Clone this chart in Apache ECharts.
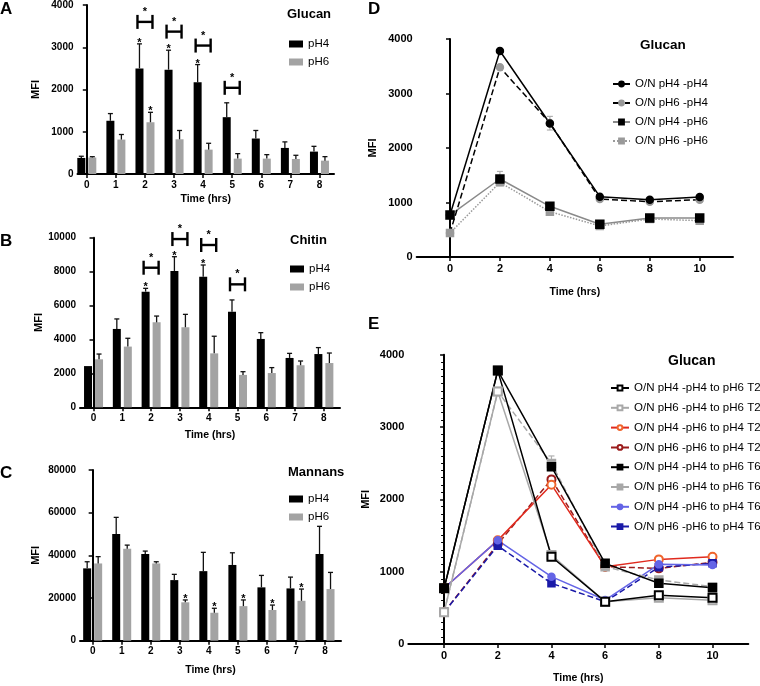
<!DOCTYPE html>
<html><head><meta charset="utf-8">
<script src="https://cdn.jsdelivr.net/npm/echarts@6/dist/echarts.min.js"></script>
<style>html,body{margin:0;padding:0;background:#fff}#c{width:760px;height:686px}</style>
</head><body><div id="c"></div>
<script>
// ---------- Data: panels A-C (bar charts) ----------
const barTimes = [0,1,2,3,4,5,6,7,8];
const glucanPH4    = [380,1260,2500,2470,2170,1345,840,617,530];
const glucanPH4Top = [420,1430,3080,2930,2590,1685,1030,760,655];
const glucanPH6    = [390,815,1225,822,577,364,364,356,316];
const glucanPH6Top = [410,935,1460,1030,727,482,458,443,411];
const chitinPH4    = [2430,4620,6820,8040,7700,5640,4030,2910,3140];
const chitinPH4Top = [2430,5210,7015,8880,8390,6330,4400,3180,3520];
const chitinPH6    = [2830,3580,5010,4720,3180,1910,2020,2480,2610];
const chitinPH6Top = [3140,4070,5380,5480,4190,2100,2340,2730,3200];
const mannanPH4    = [33900,50000,40600,28400,32600,35500,25000,24500,40600];
const mannanPH4Top = [37000,57800,42000,31100,41400,41200,30600,29800,53600];
const mannanPH6    = [36200,43100,36200,18000,13100,16200,14400,18700,24200];
const mannanPH6Top = [39400,44800,37000,19100,15200,19100,16700,24200,32000];
// significance marks
const glucanStarPH4 = [2,3,4];
const glucanStarPH6 = [2];
const chitinStarPH4 = [2,3,4];
const mannanStarPH6 = [3,4,5,6,7];
const glucanBrackets = [[2,3600],[3,3370],[4,3040],[5,2040]];
const chitinBrackets = [[2,8230],[3,9920],[4,9570],[5,7250]];

// ---------- Data: panel D ----------
const lineTimes = [0,2,4,6,8,10];
const dPH4_PH4 = [770,3780,2450,1107,1052,1101];
const dPH6_PH4 = [440,3480,2460,1064,1015,1052];
const dPH4_PH6 = [770,1431,930,600,716,716];
const dPH6_PH6 = [440,1370,832,569,697,667];
const dErrors = [[2,3740,3830],[4,2330,2580],[2,1310,1570],[6,1030,1130],[8,990,1070]];

// ---------- Data: panel E ----------
const e1 = [770,3780,1207,585,673,640];
const e2 = [440,3490,1230,585,640,604];
const e3 = [770,1433,2203,1069,1170,1207];
const e4 = [440,1382,2276,1069,1046,1129];
const e5 = [770,3780,2451,1115,839,779];
const e6 = [440,3490,2497,1069,885,793];
const e7 = [770,1433,931,608,1101,1092];
const e8 = [440,1359,839,585,1060,1115];
const eErrors = [[2,3740,3830],[4,2400,2600],[8,850,920]];

const barTicks = [0,1,2,3,4,5,6,7,8];
const lineTicks = [0,2,4,6,8,10];

const FF = "'Liberation Sans', Arial, sans-serif";
const BLACK = '#000', GRAY = '#a3a3a3';

function barItem(offset, color) {
  return function (params, api) {
    const x = api.value(0), v = api.value(1), top = api.value(2);
    const base = api.coord([x, 0]);
    const head = api.coord([x, v]);
    const err = api.coord([x, top]);
    const cx = base[0] + offset;
    const ch = [{type:'rect', shape:{x:cx-4, y:head[1], width:8, height:base[1]-head[1]}, style:{fill:color}}];
    if (top > v) {
      ch.push({type:'line', shape:{x1:cx, y1:head[1], x2:cx, y2:err[1]}, style:{stroke:'#111', lineWidth:1.3}});
      ch.push({type:'line', shape:{x1:cx-2.5, y1:err[1], x2:cx+2.5, y2:err[1]}, style:{stroke:'#111', lineWidth:1.3}});
    }
    return {type:'group', children:ch};
  };
}
function starItem(offset) {
  return function (params, api) {
    const p = api.coord([api.value(0), api.value(1)]);
    return {type:'text', x:p[0]+offset, y:p[1]-1, style:{text:'*', fill:'#000', font:'bold 11px '+FF, align:'center', verticalAlign:'middle'}};
  };
}
function bracketItem(params, api) {
  const p = api.coord([api.value(0), api.value(1)]);
  const x = p[0], y = p[1], w = 7.5, h = 7;
  const st = {stroke:'#000', lineWidth:2.4};
  return {type:'group', children:[
    {type:'line', shape:{x1:x-w, y1:y, x2:x+w, y2:y}, style:st},
    {type:'line', shape:{x1:x-w, y1:y-h, x2:x-w, y2:y+h}, style:st},
    {type:'line', shape:{x1:x+w, y1:y-h, x2:x+w, y2:y+h}, style:st},
    {type:'text', x:x, y:y-10, style:{text:'*', fill:'#000', font:'bold 11px '+FF, align:'center', verticalAlign:'middle'}}
  ]};
}
function errItem(color) {
  return function (params, api) {
    const lo = api.coord([api.value(0), api.value(1)]);
    const hi = api.coord([api.value(0), api.value(2)]);
    const st = {stroke:color, lineWidth:1.2};
    return {type:'group', children:[
      {type:'line', shape:{x1:lo[0], y1:lo[1], x2:hi[0], y2:hi[1]}, style:st},
      {type:'line', shape:{x1:lo[0]-3, y1:lo[1], x2:lo[0]+3, y2:lo[1]}, style:st},
      {type:'line', shape:{x1:hi[0]-3, y1:hi[1], x2:hi[0]+3, y2:hi[1]}, style:st}
    ]};
  };
}
const plain = v => String(v);

function xAx(gi, min, max, ticks, fs, gap) {
  return {type:'value', gridIndex:gi, min:min, max:max, splitLine:{show:false},
    axisLine:{show:true, onZero:false, lineStyle:{color:'#000', width:2}},
    axisTick:{show:true, customValues:ticks, length:4, lineStyle:{color:'#000', width:1.5}},
    axisLabel:{customValues:ticks, formatter:plain, color:'#000', fontWeight:'bold', fontSize:fs, fontFamily:FF, margin:6},
    name:'Time (hrs)', nameLocation:'middle', nameGap:gap,
    nameTextStyle:{color:'#000', fontWeight:'bold', fontSize:10.5, fontFamily:FF}};
}
function yAx(gi, max, interval, fs, gap, minor) {
  const a = {type:'value', gridIndex:gi, min:0, max:max, interval:interval, splitLine:{show:false},
    axisLine:{show:true, lineStyle:{color:'#000', width:2}},
    axisTick:{show:true, length:4, lineStyle:{color:'#000', width:1.5}},
    axisLabel:{formatter:plain, color:'#000', fontWeight:'bold', fontSize:fs, fontFamily:FF, margin:4},
    name:'MFI', nameLocation:'middle', nameGap:gap,
    nameTextStyle:{color:'#000', fontWeight:'bold', fontSize:11, fontFamily:FF}};
  if (minor) a.minorTick = {show:true, splitNumber:10, length:3, lineStyle:{color:'#000', width:1}};
  return a;
}

const series = [];
function addBars(gi, ph4, ph4Top, ph6, ph6Top) {
  series.push({name:'pH4', type:'custom', xAxisIndex:gi, yAxisIndex:gi, clip:false,
    itemStyle:{color:BLACK}, renderItem:barItem(-5.5, BLACK), encode:{x:0, y:[1,2]},
    data:barTimes.map((t,i)=>[t, ph4[i], ph4Top[i]])});
  series.push({name:'pH6', type:'custom', xAxisIndex:gi, yAxisIndex:gi, clip:false,
    itemStyle:{color:GRAY}, renderItem:barItem(5.5, GRAY), encode:{x:0, y:[1,2]},
    data:barTimes.map((t,i)=>[t, ph6[i], ph6Top[i]])});
}
function addStars(gi, cats, tops, offset) {
  series.push({name:'sig'+gi+offset, type:'custom', xAxisIndex:gi, yAxisIndex:gi, clip:false,
    renderItem:starItem(offset), encode:{x:0, y:1},
    data:cats.map(c=>[c, tops[barTimes.indexOf(c)]])});
}
function addBrackets(gi, data) {
  series.push({name:'br'+gi, type:'custom', xAxisIndex:gi, yAxisIndex:gi, clip:false,
    renderItem:bracketItem, encode:{x:0, y:1}, data:data});
}

addBars(0, glucanPH4, glucanPH4Top, glucanPH6, glucanPH6Top);
addStars(0, glucanStarPH4, glucanPH4Top, -5.5);
addStars(0, glucanStarPH6, glucanPH6Top, 5.5);
addBrackets(0, glucanBrackets);
addBars(1, chitinPH4, chitinPH4Top, chitinPH6, chitinPH6Top);
addStars(1, chitinStarPH4, chitinPH4Top, -5.5);
addBrackets(1, chitinBrackets);
addBars(2, mannanPH4, mannanPH4Top, mannanPH6, mannanPH6Top);
addStars(2, mannanStarPH6, mannanPH6Top, 5.5);

function lineS(gi, name, vals, lineColor, symColor, symbol, size, type) {
  return {name:name, type:'line', xAxisIndex:gi, yAxisIndex:gi, symbol:symbol, symbolSize:size,
    lineStyle:{color:lineColor, width:1.5, type:type||'solid'},
    itemStyle:{color:symColor, borderColor:symColor, borderWidth:1.5},
    emphasis:{disabled:true},
    data:lineTimes.map((t,i)=>[t, vals[i]])};
}
series.push({name:'errD', type:'custom', xAxisIndex:3, yAxisIndex:3, renderItem:errItem('#b0b0b0'), encode:{x:0,y:[1,2]}, data:dErrors});
series.push(lineS(3, 'O/N pH6 -pH6', dPH6_PH6, '#9a9a9a', '#9a9a9a', 'rect', 7, 'dotted'));
series.push(lineS(3, 'O/N pH4 -pH6', dPH4_PH6, '#8a8a8a', '#000', 'rect', 8, 'solid'));
series.push(lineS(3, 'O/N pH6 -pH4', dPH6_PH4, '#000', '#999', 'circle', 7, 'dashed'));
series.push(lineS(3, 'O/N pH4 -pH4', dPH4_PH4, '#000', '#000', 'circle', 7, 'solid'));

series.push({name:'errE', type:'custom', xAxisIndex:4, yAxisIndex:4, renderItem:errItem('#b0b0b0'), encode:{x:0,y:[1,2]}, data:eErrors});
series.push(lineS(4, 'O/N pH6 -pH6 to pH4 T2', e4, '#9b1c1c', '#9b1c1c', 'emptyCircle', 8, 'dashed'));
series.push(lineS(4, 'O/N pH4 -pH6 to pH4 T2', e3, '#e02a1e', '#f0642c', 'emptyCircle', 8, 'solid'));
series.push(lineS(4, 'O/N pH6 -pH6 to pH4 T6', e8, '#1a1aa8', '#1a1aa8', 'rect', 7, 'dashed'));
series.push(lineS(4, 'O/N pH4 -pH6 to pH4 T6', e7, '#6464e6', '#6464e6', 'circle', 7, 'solid'));
series.push(lineS(4, 'O/N pH6 -pH4 to pH6 T6', e6, '#a8a8a8', '#a8a8a8', 'rect', 8, 'dashed'));
series.push(lineS(4, 'O/N pH6 -pH4 to pH6 T2', e2, '#a8a8a8', '#a8a8a8', 'emptyRect', 8, 'solid'));
series.push(lineS(4, 'O/N pH4 -pH4 to pH6 T2', e1, '#000', '#000', 'emptyRect', 8, 'solid'));
series.push(lineS(4, 'O/N pH4 -pH4 to pH6 T6', e5, '#000', '#000', 'rect', 8, 'solid'));

function ttl(text, left, top, size, weight) {
  return {text:text, left:left, top:top, padding:0,
    textStyle:{color:'#000', fontFamily:FF, fontSize:size, fontWeight:weight||'bold', lineHeight:size+2}};
}
function barLegend(left, top) {
  return {orient:'vertical', left:left, top:top, padding:0, itemWidth:14, itemHeight:7, itemGap:4,
    icon:'rect', selectedMode:false, data:['pH4','pH6'],
    textStyle:{color:'#000', fontFamily:FF, fontSize:11.5, lineHeight:14}};
}

const option = {
  animation:false,
  backgroundColor:'#fff',
  title:[
    ttl('A', 0, 0, 17), ttl('B', 0, 232, 17), ttl('C', 0, 464, 17), ttl('D', 368, 0, 17), ttl('E', 368, 315, 17),
    ttl('Glucan', 287, 7, 13), ttl('Chitin', 290, 233, 13), ttl('Mannans', 288, 465, 13),
    ttl('Glucan', 640, 38, 13.5), ttl('Glucan', 668, 353, 14)
  ],
  legend:[
    barLegend(289, 37), barLegend(290, 262), barLegend(289, 492),
    {orient:'vertical', left:612, top:77, padding:0, itemWidth:17, itemHeight:6, itemGap:5, selectedMode:false,
     data:['O/N pH4 -pH4','O/N pH6 -pH4','O/N pH4 -pH6','O/N pH6 -pH6'],
     textStyle:{color:'#000', fontFamily:FF, fontSize:11.5, lineHeight:14}},
    {orient:'vertical', left:610, top:381, padding:0, itemWidth:18, itemHeight:6, itemGap:5.8, selectedMode:false,
     data:['O/N pH4 -pH4 to pH6 T2','O/N pH6 -pH4 to pH6 T2','O/N pH4 -pH6 to pH4 T2','O/N pH6 -pH6 to pH4 T2',
           'O/N pH4 -pH4 to pH6 T6','O/N pH6 -pH4 to pH6 T6','O/N pH4 -pH6 to pH4 T6','O/N pH6 -pH6 to pH4 T6'],
     textStyle:{color:'#000', fontFamily:FF, fontSize:11.5, lineHeight:14}}
  ],
  grid:[
    {left:77.5, top:5, width:256.5, height:169, outerBoundsMode:'none'},
    {left:80, top:237.7, width:260, height:169.6, outerBoundsMode:'none'},
    {left:80, top:470, width:261, height:170.7, outerBoundsMode:'none'},
    {left:416.7, top:39, width:316.3, height:218, outerBoundsMode:'none'},
    {left:408.3, top:354.7, width:340, height:289.3, outerBoundsMode:'none'}
  ],
  xAxis:[
    xAx(0, -0.32, 8.5, barTicks, 10, 20),
    xAx(1, -0.47, 8.56, barTicks, 10, 22),
    xAx(2, -0.436, 8.55, barTicks, 10, 24),
    xAx(3, -4/3, 34/3, lineTicks, 11, 30),
    xAx(4, -4/3, 34/3, lineTicks, 11, 29)
  ],
  yAxis:[
    yAx(0, 4000, 1000, 10, 36),
    yAx(1, 10000, 2000, 10, 36),
    yAx(2, 80000, 20000, 10, 39),
    yAx(3, 4000, 1000, 11, 38),
    yAx(4, 4000, 1000, 11, 37, true)
  ],
  series:series
};
const chart = echarts.init(document.getElementById('c'), null, {renderer:'canvas'});
chart.setOption(option);
</script>
</body></html>
